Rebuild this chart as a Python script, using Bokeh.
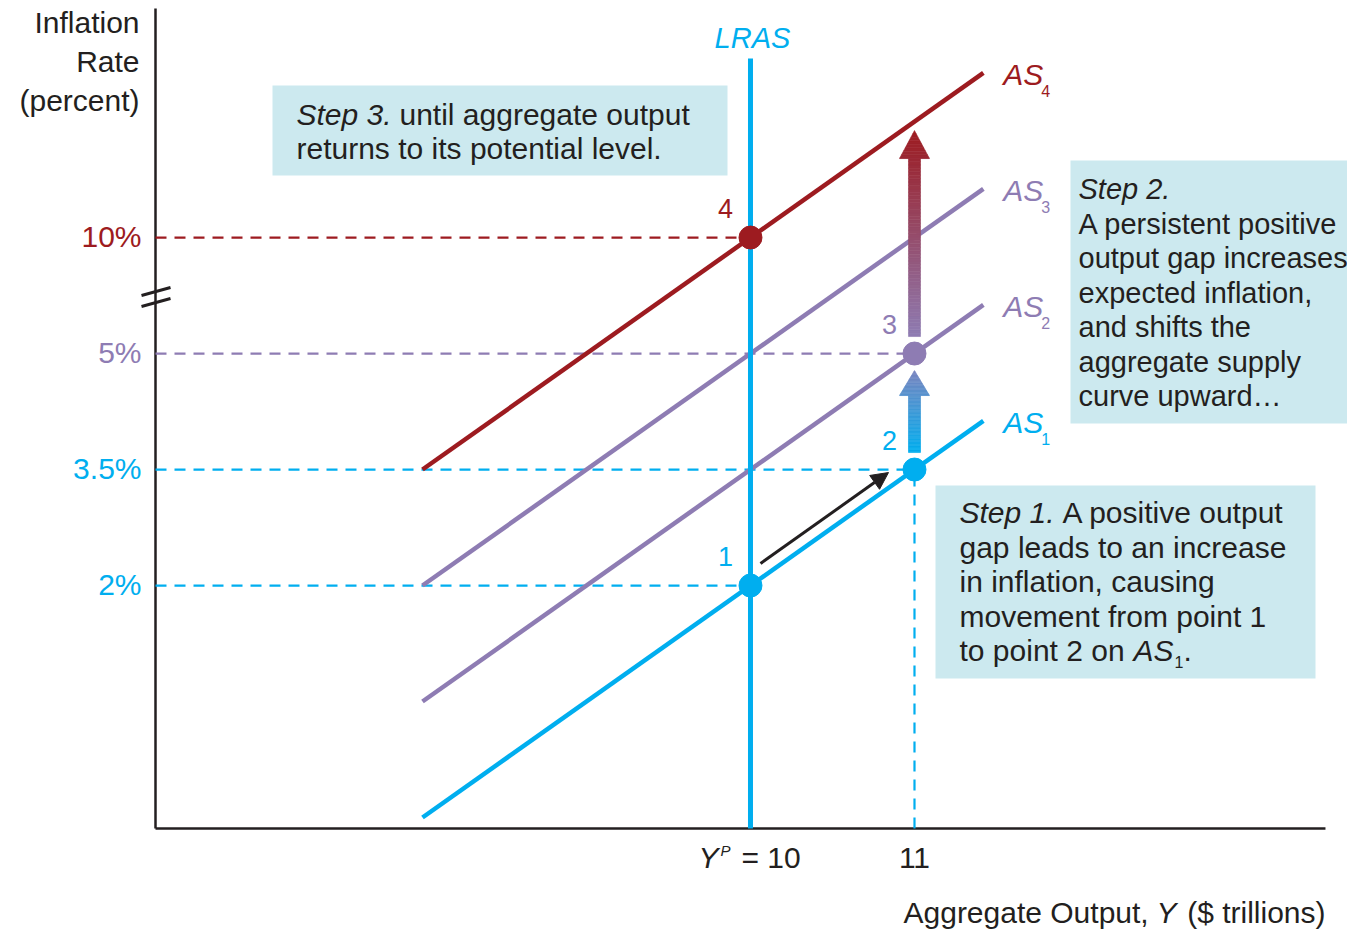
import numpy as np
from bokeh.plotting import figure
from bokeh.models import (LabelSet, BoxAnnotation, Arrow, NormalHead,
                          ColumnDataSource, Range1d)
from bokeh.core.properties import value
from bokeh.embed import file_html
from bokeh.resources import INLINE

# ---------------- data ----------------
potential_output = 10                      # Y^P, $ trillions
output_ticks = [10, 11]
inflation_ticks = [2, 3.5, 5, 10]
inflation_tick_labels = ["2%", "3.5%", "5%", "10%"]
as_subscripts = ["1", "2", "3", "4"]
as_inflation_at_potential = [2, 3.5, 5, 10]  # percent at Y = Y^P
as_slope = 1.5                               # points per $ trillion
as_output_start = 8.0
as_output_end = 11.42
point_labels = ["1", "2", "3", "4"]
point_output = [10, 11, 11, 10]
point_inflation = [2, 3.5, 5, 10]

# ---------------- style ----------------
CYAN = "#00AEEF"
PURPLE = "#8E7CB3"
RED = "#9D1B20"
INK = "#231F20"
BOXC = "#CCE9EF"
FONT = "Liberation Sans"
as_colors = [CYAN, PURPLE, PURPLE, RED]
point_colors = [CYAN, CYAN, PURPLE, RED]
tick_colors = [CYAN, CYAN, PURPLE, RED]


def pos(v):
    """broken inflation axis: above 5% the scale is compressed"""
    return v if v <= 5 else 5 + (v - 5) * 0.3


# axis geometry
UX, UY = 164.0, 77.33            # pixels per unit
AX_X0, AX_X1 = 6.372, 13.506     # x-axis extent (Y, $ trillions)
AX_Y0, AX_Y1 = -1.142, 9.461     # y-axis extent (plot position)
W, H = 1347, 929


def sx(px):  # canvas pixel -> data x (layout helper for annotations)
    return AX_X0 + (px - 155) / UX


def sy(py):
    return AX_Y0 + (828 - py) / UY


p = figure(width=W, height=H, x_range=Range1d(sx(0), sx(W)), y_range=Range1d(sy(H), sy(0)),
           output_backend="svg", toolbar_location=None, min_border=0)
p.xaxis.visible = False
p.yaxis.visible = False
p.grid.visible = False
p.outline_line_color = None


def lab(x, y, text, color=INK, size=30, style="normal", align="left"):
    src = ColumnDataSource(dict(x=[x], y=[y], t=[text]))
    p.add_layout(LabelSet(x="x", y="y", text="t", source=src, text_color=color,
                          text_font=value(FONT), text_font_size=f"{size}px",
                          text_font_style=style, text_align=align,
                          text_baseline="alphabetic"))


# ---------------- text boxes ----------------
for l, r, t, b in [(272, 727, 85, 175), (1070, 1360, 160, 423), (935, 1315, 485, 678)]:
    p.add_layout(BoxAnnotation(left=sx(l), right=sx(r), top=sy(t), bottom=sy(b),
                               fill_color=BOXC, fill_alpha=1, line_color=None, level="underlay"))

# ---------------- axes ----------------
p.segment(x0=[AX_X0, AX_X0], y0=[AX_Y0, AX_Y0], x1=[AX_X1, AX_X0], y1=[AX_Y0, AX_Y1],
          line_color=INK, line_width=2.5)

# ---------------- dashed guides ----------------
pin = [pos(v) for v in point_inflation]
p.segment(x0=[AX_X0] * 4, y0=pin, x1=point_output, y1=pin, line_color=point_colors,
          line_width=2.2, line_dash="11 8")
p.segment(x0=[point_output[1]], y0=[AX_Y0], x1=[point_output[1]], y1=[pin[1]],
          line_color=CYAN, line_width=2.2, line_dash="11 8")

# ---------------- curves ----------------
xs, ys = [], []
for a in as_inflation_at_potential:
    b = pos(a)
    xs.append([as_output_start, as_output_end])
    ys.append([b + as_slope * (as_output_start - potential_output),
               b + as_slope * (as_output_end - potential_output)])
p.multi_line(xs, ys, line_color=as_colors, line_width=4.5)

LRAS_TOP = sy(58)
p.line([potential_output, potential_output], [AX_Y0, LRAS_TOP], line_color=CYAN, line_width=5)


# ---------------- gradient arrows ----------------
def mix(c0, c1, t):
    a = [int(c0[i:i + 2], 16) for i in (1, 3, 5)]
    b = [int(c1[i:i + 2], 16) for i in (1, 3, 5)]
    return "#%02x%02x%02x" % tuple(int(round(a[k] + (b[k] - a[k]) * t)) for k in range(3))


def grad_arrow(x, y0, y1, head_len, shaft_hw, head_hw, c0, c1, n=60):
    hb = y1 - head_len
    pxs, pys, cols = [], [], []
    edges = list(np.linspace(y0, y1, n + 1))

    def hw(y, upper):
        if y < hb - 1e-9 or (abs(y - hb) < 1e-9 and not upper):
            return shaft_hw
        return head_hw * (y1 - y) / head_len

    for i in range(n):
        ya, yb = edges[i], edges[i + 1]
        segs = [(ya, hb), (hb, yb)] if ya < hb < yb else [(ya, yb)]
        col = mix(c0, c1, (i + 0.5) / n)
        for (u, v) in segs:
            wu = hw(u, True)
            wv = hw(v, False) if v <= hb + 1e-9 else hw(v, True)
            pxs.append([x - wu, x + wu, x + wv, x - wv])
            pys.append([u, u, v, v])
            cols.append(col)
    p.patches(pxs, pys, fill_color=cols, line_color=cols, line_width=0.6)


grad_arrow(point_output[1], pos(3.5) + 17 / UY, pos(5) - 17 / UY, 25 / UY,
           6 / UX, 15 / UX, CYAN, "#7B86C0")
as4_at_11 = pos(10) + as_slope * (11 - potential_output)
grad_arrow(point_output[2], pos(5) + 17 / UY, as4_at_11 - 9 / UY, 28 / UY,
           6 / UX, 15 / UX, PURPLE, RED)

# black movement arrow (along AS1 from point 1 to point 2)
p.add_layout(Arrow(end=NormalHead(size=17, fill_color=INK, line_color=INK),
                   x_start=point_output[0] + 10 / UX, y_start=pin[0] + 22 / UY,
                   x_end=point_output[1] - 26 / UX, y_end=pin[1] - 3 / UY,
                   line_color=INK, line_width=3))

# ---------------- points ----------------
p.scatter(point_output, pin, size=23, fill_color=point_colors, line_color=point_colors)

src_pts = ColumnDataSource(dict(x=[v - 25 / UX for v in point_output],
                                y=[v + 20 / UY for v in pin],
                                t=point_labels, c=point_colors))
p.add_layout(LabelSet(x="x", y="y", text="t", source=src_pts, text_color="c",
                      text_font=value(FONT), text_font_size="27px",
                      text_align="center", text_baseline="alphabetic"))

# ---------------- y tick labels (coloured) ----------------
src_ticks = ColumnDataSource(dict(x=[sx(141)] * 4,
                                  y=[pos(v) - 9 / UY for v in inflation_ticks],
                                  t=inflation_tick_labels, c=tick_colors))
p.add_layout(LabelSet(x="x", y="y", text="t", source=src_ticks, text_color="c",
                      text_font=value(FONT), text_font_size="30px",
                      text_align="right", text_baseline="alphabetic"))

# axis break mark
for dy in (0, 11):
    p.add_layout(Arrow(end=None, x_start=sx(141), y_start=sy(295 + dy),
                       x_end=sx(170), y_end=sy(287 + dy), line_color=INK, line_width=3))

# ---------------- x tick labels ----------------
lab(output_ticks[1], sy(867), "11", align="center")
lab(sx(718), sy(867), "Y", style="italic", align="right")
lab(sx(720), sy(855), "P", size=15, style="italic")
lab(sx(741), sy(867), "= " + str(output_ticks[0]))

# ---------------- axis titles ----------------
lab(sx(139), sy(32), "Inflation", align="right")
lab(sx(139), sy(71), "Rate", align="right")
lab(sx(139), sy(110), "(percent)", align="right")
lab(sx(903), sy(922), "Aggregate Output,")
lab(sx(1156), sy(922), "Y", style="italic")
lab(sx(1325), sy(922), "($ trillions)", align="right")

# ---------------- curve labels ----------------
lab(potential_output + 2 / UX, sy(47), "LRAS", color=CYAN, size=29, style="italic", align="center")
for a, s, c in zip(as_inflation_at_potential, as_subscripts, as_colors):
    end = pos(a) + as_slope * (as_output_end - potential_output)
    lab(as_output_end + 20 / UX, end - 12 / UY, "AS", color=c, style="italic")
    lab(as_output_end + 58 / UX, end - 24 / UY, s, color=c, size=16)

# ---------------- box texts ----------------
lab(sx(296), sy(124), "Step 3.", style="italic")
lab(sx(399), sy(124), "until aggregate output")
lab(sx(296), sy(158), "returns to its potential level.")

lab(sx(1078), sy(198), "Step 2.", size=29, style="italic")
for i, line in enumerate(["A persistent  positive", "output gap increases", "expected inflation,",
                          "and shifts the", "aggregate supply", "curve upward\u2026"]):
    lab(sx(1078), sy(233 + 34.5 * i), line, size=29)

lab(sx(959), sy(522), "Step 1.", style="italic")
lab(sx(1062), sy(522), "A positive output")
for i, line in enumerate(["gap leads to an increase", "in inflation, causing",
                          "movement from point 1"]):
    lab(sx(959), sy(557 + 34.5 * i), line)
lab(sx(959), sy(660), "to point 2 on")
lab(sx(1133), sy(660), "AS", style="italic")
lab(sx(1174), sy(667), "1", size=16)
lab(sx(1183), sy(660), ".")

open("out.html", "w").write(file_html(p, INLINE))
